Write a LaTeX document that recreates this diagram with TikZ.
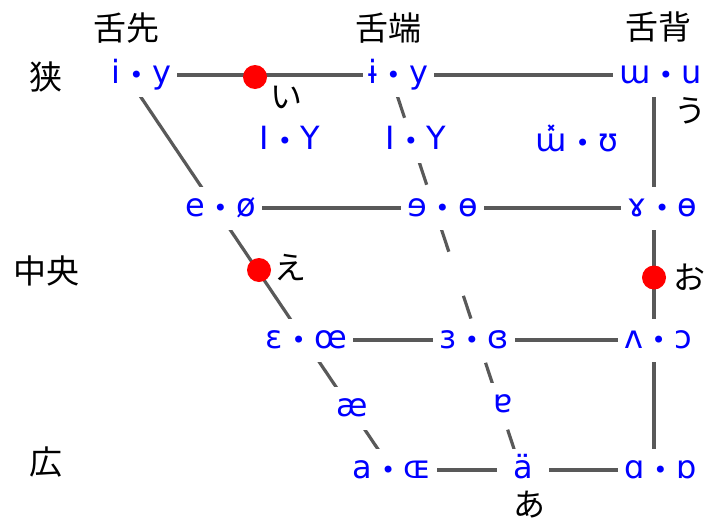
\documentclass[tikz,border=0pt]{standalone}
\usepackage{fontspec}
\setmainfont{DejaVu Sans}
\newfontfamily\ipafont[WordSpace=0.85]{DejaVu Sans}
\newfontfamily\jpfont{Noto Sans CJK JP}
\usetikzlibrary{backgrounds}
\newcommand\bul{{\fontsize{24}{24}\selectfont •}}
\tikzset{
  vw/.style={font=\ipafont\fontsize{32}{32}\selectfont, text=blue, fill=white,
    inner xsep=6pt, inner ysep=0pt, text height=30pt, text depth=13pt},
  lbl/.style={font=\jpfont\fontsize{33}{33}\selectfont, inner sep=0pt},
  kana/.style={font=\jpfont\fontsize{32}{32}\selectfont, inner sep=0pt},
  rdot/.style={circle, fill=red, minimum size=24pt, inner sep=0pt},
  ln/.style={draw=black!65, line width=3.2pt},
  dln/.style={ln, dash pattern=on 24pt off 46.5pt},
}
\begin{document}
\begin{tikzpicture}[x=1pt,y=-1pt]
\useasboundingbox (0,0) rectangle (708,522);
% vowel nodes
\node[vw] (iy)  at (141.5,75) {i \bul{} y};
\node[vw] (ty)  at (398.5,75) {ɨ \bul{} y};
\node[vw] (wu)  at (660.5,75) {ɯ \bul{} u};
\node[vw] (IYa) at (290,141) {I \bul{} Y};
\node[vw] (IYb) at (416,141) {I \bul{} Y};
\node[vw] (wv)  at (577,143) {ɯ̽ \bul{} ʊ};
\node[vw] (eo)  at (220.5,208) {e \bul{} ø};
\node[vw] (co)  at (442.5,208) {ɘ \bul{} ɵ};
\node[vw] (go)  at (662.5,208) {ɤ \bul{} ɵ};
\node[vw] (eoe) at (306.5,340) {ɛ \bul{} œ};
\node[vw] (ez)  at (474,340) {ɜ \bul{} ɞ};
\node[vw] (vc)  at (658,340) {ʌ \bul{} ɔ};
\node[vw] (ae)  at (352,408) {æ};
\node[vw] (tu)  at (503,404) {ɐ};
\node[vw] (aoe) at (392,470) {a \bul{} ɶ};
\node[vw, inner xsep=16pt] (ad) at (523,470) {ä};
\node[vw] (ao)  at (660.5,470) {ɑ \bul{} ɒ};
% helper coordinates for the slanted and vertical lines
\coordinate (ftop) at (126,75);
\coordinate (ctop) at (397,95);
\coordinate (cbot) at (520,467);
\coordinate (btop) at (654,75);
\coordinate (bbot) at (654,470);
% lines behind the nodes
\begin{scope}[on background layer]
  \draw[ln] (iy) -- (ty);
  \draw[ln] (ty) -- (wu);
  \draw[ln] (eo) -- (co);
  \draw[ln] (co) -- (go);
  \draw[ln] (eoe) -- (ez);
  \draw[ln] (ez) -- (vc);
  \draw[ln] (aoe) -- (ad);
  \draw[ln] (ad) -- (ao);
  \draw[ln] (ftop) -- (aoe.center);
  \draw[dln] (ctop) -- (cbot);
  \draw[ln] (btop) -- (bbot);
\end{scope}
% red dots
\node[rdot] (di) at (255,77) {};
\node[rdot] (de) at (259,270) {};
\node[rdot] (do) at (654,277.5) {};
% labels
\node[lbl] (sA) at (126,28) {舌先};
\node[lbl] (sB) at (388,28) {舌端};
\node[lbl] (sC) at (658.5,27.5) {舌背};
\node[lbl] (hN) at (46,77) {狭};
\node[lbl] (hM) at (46,271) {中央};
\node[lbl] (hW) at (46,462) {広};
\node[kana] (ki) at (286,97) {い};
\node[kana] (ku) at (690,111) {う};
\node[kana] (ke) at (290,268) {え};
\node[kana] (ko) at (689,277) {お};
\node[kana] (ka) at (529,505) {あ};
\end{tikzpicture}
\end{document}
